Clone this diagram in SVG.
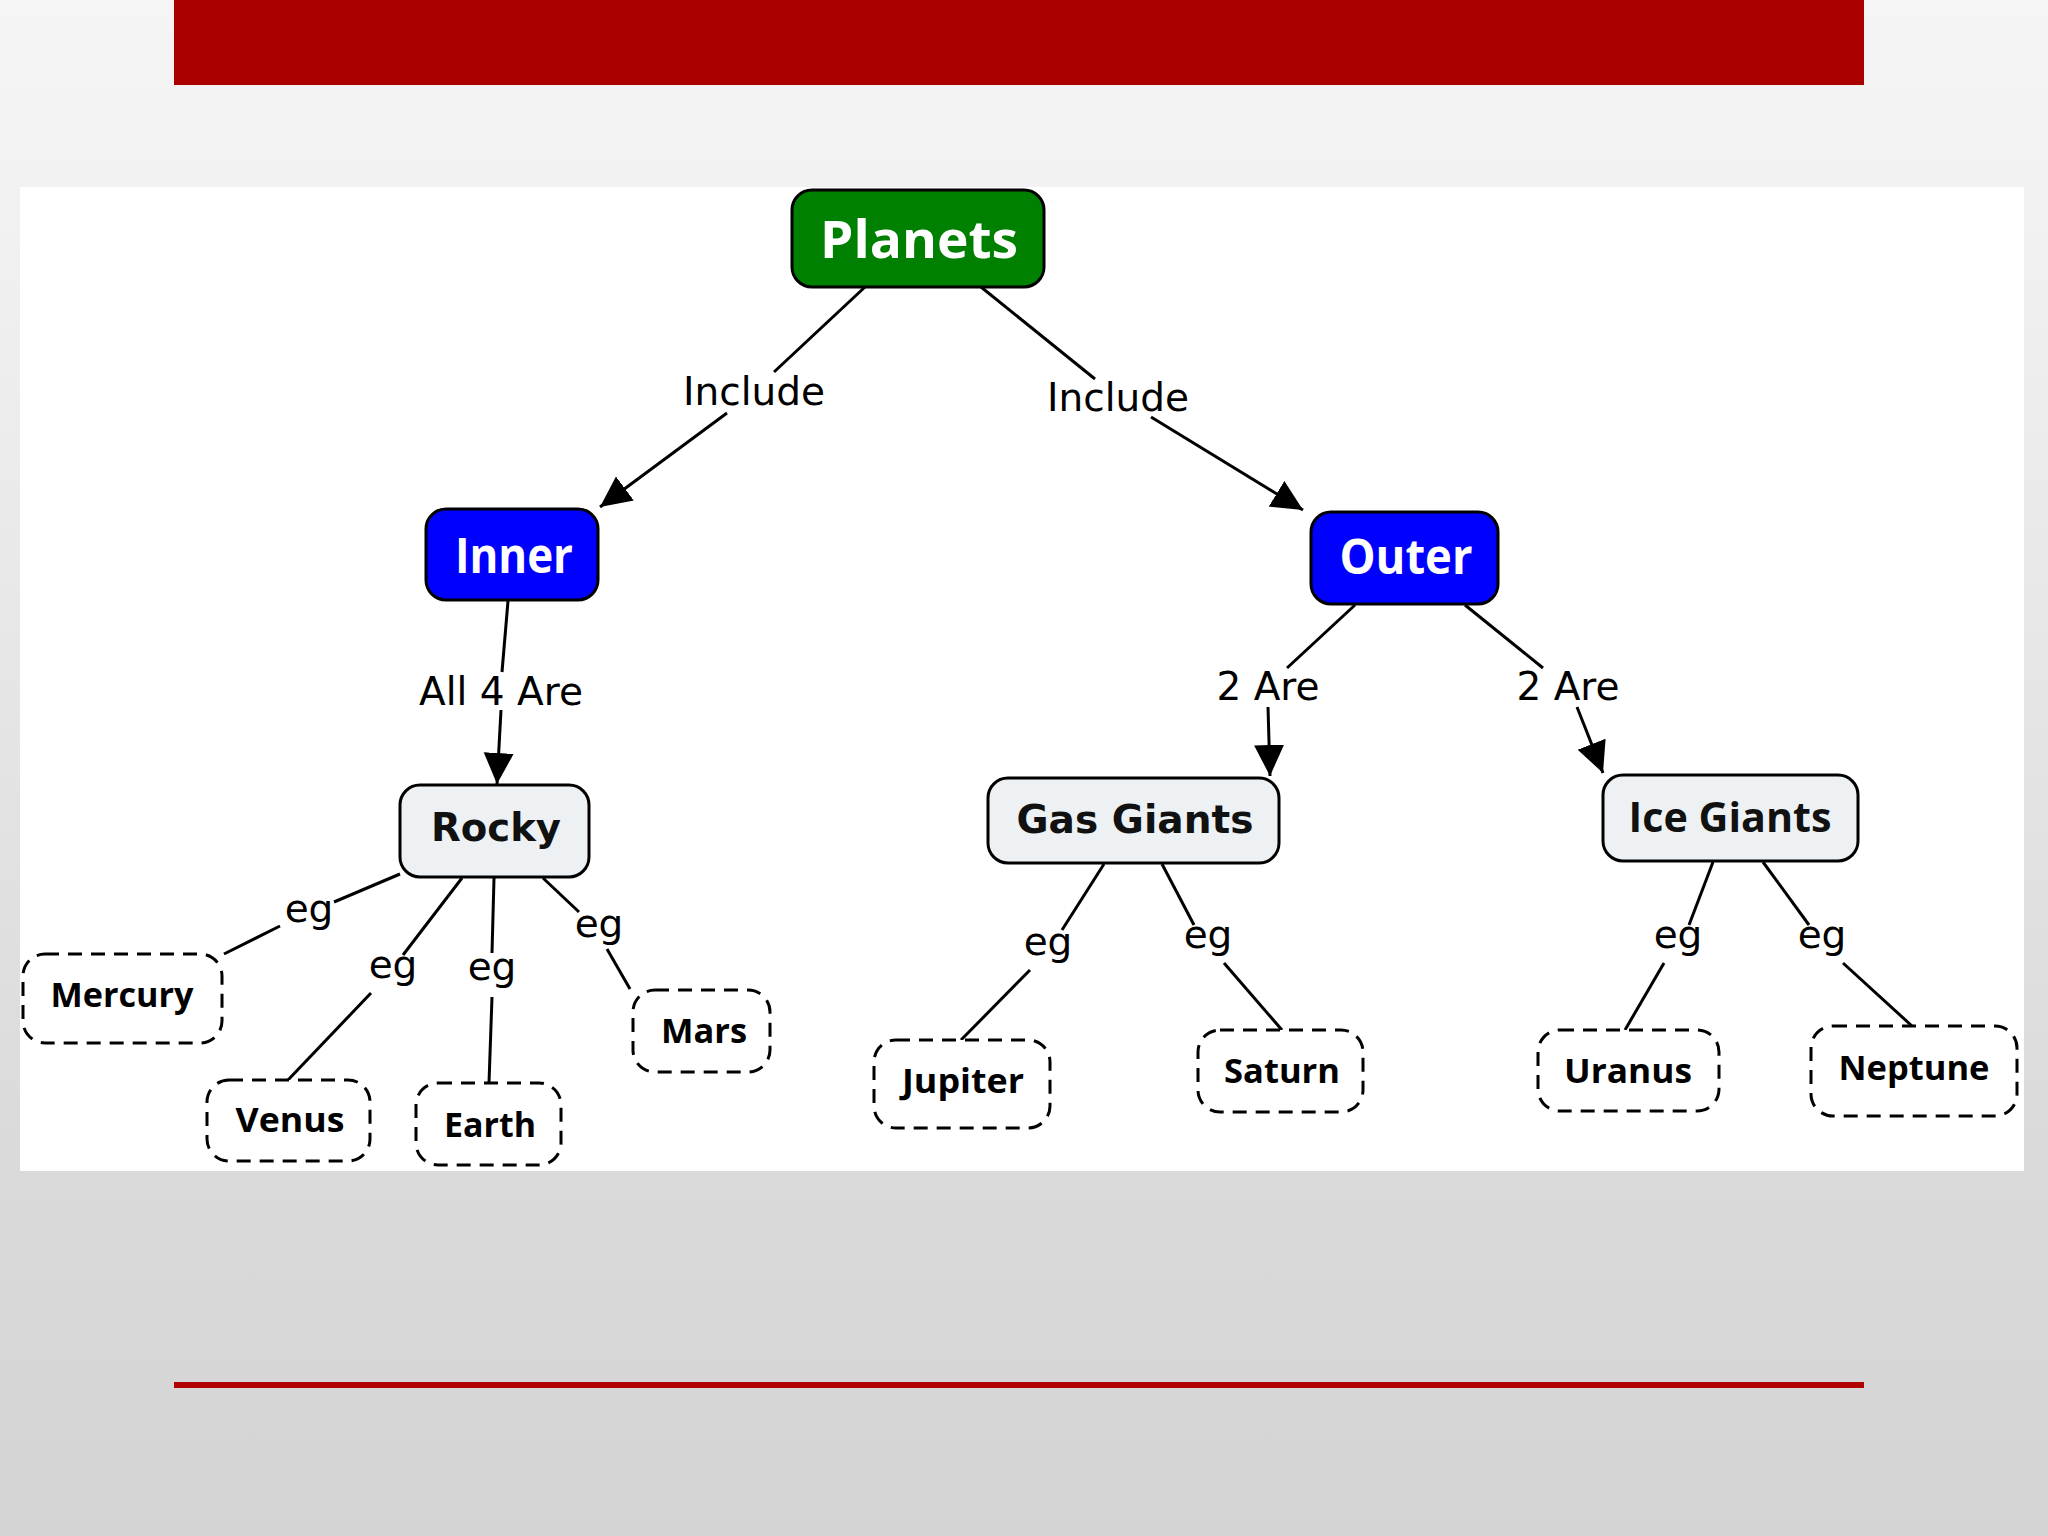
<svg xmlns="http://www.w3.org/2000/svg" width="2048" height="1536" viewBox="0 0 2048 1536">
<defs>
<linearGradient id="bg" x1="0" y1="0" x2="0" y2="1">
<stop offset="0" stop-color="#f5f5f5"/>
<stop offset="0.15" stop-color="#f1f1f1"/>
<stop offset="0.75" stop-color="#dadada"/>
<stop offset="1" stop-color="#d4d4d4"/>
</linearGradient>
<marker id="arr" markerUnits="userSpaceOnUse" markerWidth="32" markerHeight="32" refX="31" refY="15" orient="auto" viewBox="0 0 32 30">
<path d="M0,0 L31,15 L0,30 z" fill="#000"/>
</marker>
<style>
.solid{stroke:#000;stroke-width:3}
.dash{fill:#fff;stroke:#000;stroke-width:3;stroke-dasharray:14 9}
.lt{fill:#edf1f4}
.ln{stroke:#000;stroke-width:3;fill:none}
.lbl{font-family:"DejaVu Sans",Verdana,sans-serif;font-size:39px;fill:#000;text-anchor:middle}
.rnd{font-family:"Open Sans","Noto Sans",sans-serif;font-weight:700;text-anchor:middle}
.bold{font-family:"DejaVu Sans",Verdana,sans-serif;font-weight:700;font-size:39px;fill:#111;text-anchor:middle}
.pl{font-size:34px;fill:#000}
</style>
</defs>
<rect x="0" y="0" width="2048" height="1536" fill="url(#bg)"/>
<rect x="174" y="0" width="1690" height="85" fill="#aa0000"/>
<rect x="20" y="187" width="2004" height="984" fill="#fff"/>
<rect x="174" y="1382" width="1690" height="6" fill="#b00000"/>

<g id="connectors">
<line class="ln" x1="865" y1="287" x2="774" y2="372"/>
<line class="ln" x1="727" y1="413" x2="600" y2="507" marker-end="url(#arr)"/>
<text class="lbl" x="754" y="405">Include</text>
<line class="ln" x1="981" y1="287" x2="1095" y2="379"/>
<line class="ln" x1="1151" y1="417" x2="1303" y2="510" marker-end="url(#arr)"/>
<text class="lbl" x="1118" y="411">Include</text>
<line class="ln" x1="508" y1="601" x2="502" y2="672"/>
<line class="ln" x1="501" y1="710" x2="497" y2="784" marker-end="url(#arr)"/>
<text class="lbl" x="501" y="705">All 4 Are</text>
<line class="ln" x1="1355" y1="605" x2="1287" y2="668"/>
<line class="ln" x1="1268" y1="707" x2="1270" y2="776" marker-end="url(#arr)"/>
<text class="lbl" x="1268" y="700">2 Are</text>
<line class="ln" x1="1465" y1="605" x2="1543" y2="668"/>
<line class="ln" x1="1577" y1="707" x2="1603" y2="773" marker-end="url(#arr)"/>
<text class="lbl" x="1568" y="700">2 Are</text>

<line class="ln" x1="400" y1="874" x2="334" y2="902"/>
<line class="ln" x1="280" y1="926" x2="224" y2="954"/>
<text class="lbl" x="309" y="922">eg</text>
<line class="ln" x1="462" y1="878" x2="403" y2="955"/>
<line class="ln" x1="371" y1="993" x2="288" y2="1080"/>
<text class="lbl" x="393" y="978">eg</text>
<line class="ln" x1="494" y1="878" x2="492" y2="953"/>
<line class="ln" x1="492" y1="997" x2="489" y2="1083"/>
<text class="lbl" x="492" y="980">eg</text>
<line class="ln" x1="543" y1="878" x2="579" y2="912"/>
<line class="ln" x1="607" y1="949" x2="630" y2="989"/>
<text class="lbl" x="599" y="937">eg</text>

<line class="ln" x1="1104" y1="864" x2="1062" y2="930"/>
<line class="ln" x1="1030" y1="970" x2="961" y2="1040"/>
<text class="lbl" x="1048" y="955">eg</text>
<line class="ln" x1="1162" y1="864" x2="1194" y2="925"/>
<line class="ln" x1="1224" y1="963" x2="1282" y2="1030"/>
<text class="lbl" x="1208" y="948">eg</text>
<line class="ln" x1="1713" y1="862" x2="1689" y2="925"/>
<line class="ln" x1="1664" y1="963" x2="1625" y2="1030"/>
<text class="lbl" x="1678" y="948">eg</text>
<line class="ln" x1="1763" y1="862" x2="1809" y2="925"/>
<line class="ln" x1="1843" y1="963" x2="1912" y2="1026"/>
<text class="lbl" x="1822" y="948">eg</text>
</g>

<g id="planets">
<rect class="solid" x="792" y="190" width="252" height="97" rx="20" fill="#008000"/>
<text class="rnd" x="919" y="258" font-size="52" fill="#fff" textLength="198" lengthAdjust="spacingAndGlyphs">Planets</text>
</g>
<g id="inner">
<rect class="solid" x="426" y="509" width="172" height="91" rx="20" fill="#0000ff"/>
<text class="rnd" x="514" y="573" font-size="48" fill="#fff" textLength="118" lengthAdjust="spacingAndGlyphs">Inner</text>
</g>
<g id="outer">
<rect class="solid" x="1311" y="512" width="187" height="92" rx="20" fill="#0000ff"/>
<text class="rnd" x="1406" y="574" font-size="48" fill="#fff" textLength="133" lengthAdjust="spacingAndGlyphs">Outer</text>
</g>
<g id="rocky">
<rect class="solid lt" x="400" y="785" width="189" height="92" rx="20"/>
<text class="bold" x="496" y="841" textLength="130" lengthAdjust="spacingAndGlyphs">Rocky</text>
</g>
<g id="gas-giants">
<rect class="solid lt" x="988" y="778" width="291" height="85" rx="20"/>
<text class="bold" x="1135" y="833" textLength="237" lengthAdjust="spacingAndGlyphs">Gas Giants</text>
</g>
<g id="ice-giants">
<rect class="solid lt" x="1603" y="775" width="255" height="86" rx="20"/>
<text class="rnd" x="1730" y="832" font-size="42" fill="#111" textLength="203" lengthAdjust="spacingAndGlyphs">Ice Giants</text>
</g>

<g id="mercury">
<rect class="dash" x="23" y="954" width="199" height="89" rx="22"/>
<text class="rnd pl" x="122" y="1007" textLength="143" lengthAdjust="spacingAndGlyphs">Mercury</text>
</g>
<g id="venus">
<rect class="dash" x="207" y="1080" width="163" height="81" rx="22"/>
<text class="rnd pl" x="290" y="1132" textLength="109" lengthAdjust="spacingAndGlyphs">Venus</text>
</g>
<g id="earth">
<rect class="dash" x="416" y="1083" width="145" height="82" rx="22"/>
<text class="rnd pl" x="490" y="1137" textLength="92" lengthAdjust="spacingAndGlyphs">Earth</text>
</g>
<g id="mars">
<rect class="dash" x="633" y="990" width="137" height="82" rx="22"/>
<text class="rnd pl" x="704" y="1043" textLength="86" lengthAdjust="spacingAndGlyphs">Mars</text>
</g>
<g id="jupiter">
<rect class="dash" x="874" y="1040" width="176" height="88" rx="22"/>
<text class="rnd pl" x="963" y="1093" textLength="122" lengthAdjust="spacingAndGlyphs">Jupiter</text>
</g>
<g id="saturn">
<rect class="dash" x="1198" y="1030" width="165" height="82" rx="22"/>
<text class="rnd pl" x="1282" y="1083" textLength="116" lengthAdjust="spacingAndGlyphs">Saturn</text>
</g>
<g id="uranus">
<rect class="dash" x="1538" y="1030" width="181" height="81" rx="22"/>
<text class="rnd pl" x="1628" y="1083" textLength="128" lengthAdjust="spacingAndGlyphs">Uranus</text>
</g>
<g id="neptune">
<rect class="dash" x="1811" y="1026" width="206" height="90" rx="22"/>
<text class="rnd pl" x="1914" y="1080" textLength="151" lengthAdjust="spacingAndGlyphs">Neptune</text>
</g>
</svg>
